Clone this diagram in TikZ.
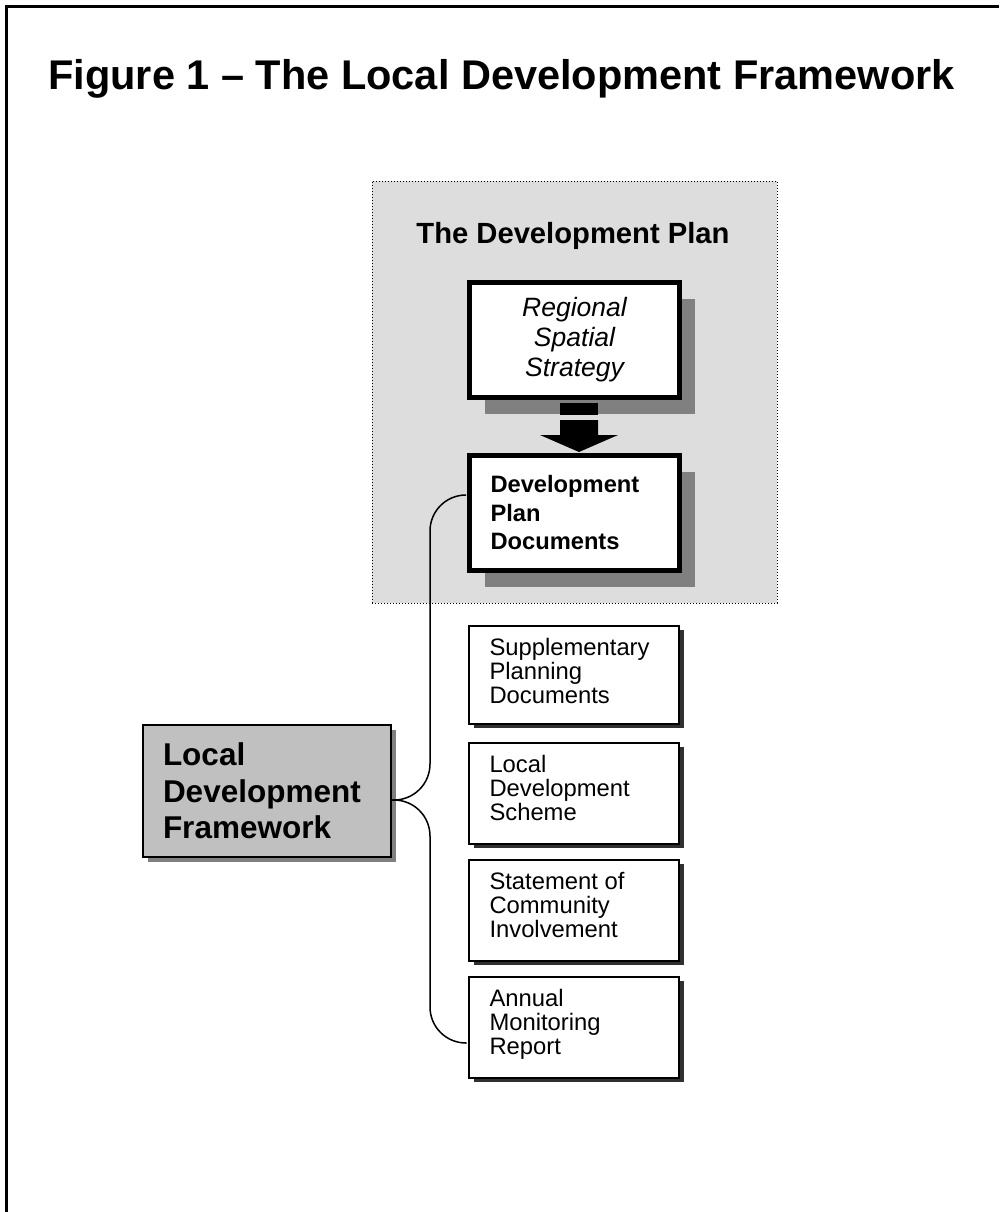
\documentclass[tikz,border=0pt]{standalone}
\usepackage{fontspec}
\setmainfont{Liberation Sans}
\usetikzlibrary{calc,shadows}
\definecolor{plangray}{HTML}{DDDDDD}
\definecolor{ldfgray}{HTML}{C0C0C0}
\definecolor{shadowgray}{HTML}{808080}
\definecolor{darkshadow}{HTML}{303030}
\newcommand{\boxtxt}[2]{\begin{minipage}[t][#1][t]{168pt}\fontsize{23.8}{24.3}\selectfont\raggedright #2\end{minipage}}
\begin{document}
\begin{tikzpicture}[x=1pt,y=-1pt,
  frame/.style={line width=2.5pt},
  planbox/.style={draw=black, dotted, line width=1pt, fill=plangray, minimum width=405pt, minimum height=422pt, inner sep=0pt},
  thickbox/.style={draw=black, line width=5pt, fill=white, minimum width=210pt, minimum height=115pt, inner sep=0pt,
     drop shadow={shadow xshift=15pt, shadow yshift=-16pt, fill=shadowgray, opacity=1}},
  ldfbox/.style={draw=black, line width=2pt, fill=ldfgray, minimum width=248pt, minimum height=132pt, inner sep=0pt,
     drop shadow={shadow xshift=5pt, shadow yshift=-5pt, fill=shadowgray, opacity=1}},
  thinbox/.style={draw=black, line width=2pt, fill=white, minimum width=210pt, inner xsep=0pt, inner ysep=12pt,
     drop shadow={shadow xshift=5pt, shadow yshift=-4pt, fill=darkshadow, opacity=1}},
  conn/.style={draw=black, line width=1.5pt, rounded corners=36pt}
]
\useasboundingbox (0,0) rectangle (999,1212);
\fill[white] (0,0) rectangle (999,1212);
% outer frame (top and left edges)
\draw[frame] (6.5,1212) -- (6.5,6.5) -- (999,6.5);

% title
\node[font=\bfseries\fontsize{41.5}{48}\selectfont, anchor=base, inner sep=0pt] (title) at (501.5,90)
  {Figure 1 – The Local Development Framework};

% development plan area
\node[planbox] (plan) at (574.5,392) {};
\node[font=\bfseries\fontsize{29.2}{34}\selectfont, anchor=base, inner sep=0pt] (plantitle) at (573,243)
  {The Development Plan};

\node[thickbox, align=center, font=\itshape\fontsize{26.5}{30}\selectfont] (rss) at (574.5,340)
  {Regional\\Spatial\\Strategy};

% block arrow
\fill[black] (560,403) rectangle (598,415);
\fill[black] (560,420) -- (598,420) -- (598,435) -- (618,435) -- (579,452) -- (540,435) -- (560,435) -- cycle;

\node[thickbox, align=left, text width=168pt, font=\bfseries\fontsize{23.7}{28.5}\selectfont] (dpd) at (574.5,513)
  {Development\\Plan\\Documents};

% local development framework
\node[ldfbox, align=left, text width=208pt, font=\bfseries\fontsize{31.5}{36.5}\selectfont] (ldf) at (267,791)
  {Local\\Development\\Framework};

% right-hand boxes
\node[thinbox] (spd) at (573.5,675)    {\boxtxt{74pt}{Supplementary\\Planning\\Documents}};
\node[thinbox] (lds) at (573.5,793.5)  {\boxtxt{77pt}{Local\\Development\\Scheme}};
\node[thinbox] (sci) at (573.5,910.5)  {\boxtxt{77pt}{Statement of\\Community\\Involvement}};
\node[thinbox] (amr) at (573.5,1027.5) {\boxtxt{77pt}{Annual\\Monitoring\\Report}};

% connectors
\coordinate (fork) at ($(ldf.east)+(0,9)$);
\coordinate (dpdin) at ($(dpd.west)+(-2.5,-18)$);
\coordinate (amrin) at ($(amr.west)+(-1,15.5)$);
\draw[conn] (fork) -- ++(38,0) |- (dpdin);
\draw[conn] (fork) -- ++(38,0) |- (amrin);
\end{tikzpicture}
\end{document}
